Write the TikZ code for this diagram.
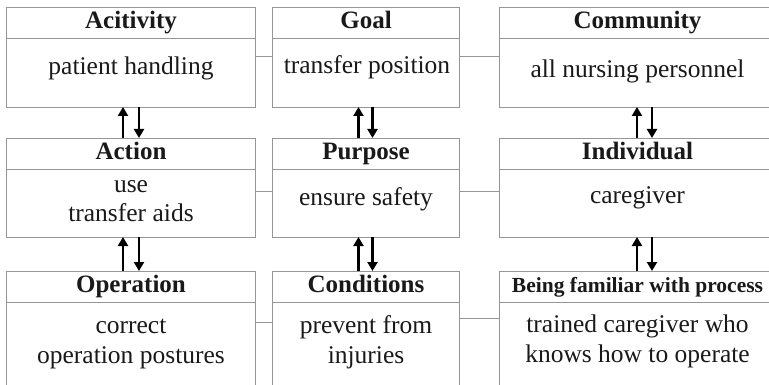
\documentclass[tikz,border=0pt]{standalone}
\usepackage{fontspec}
\setmainfont{Liberation Serif}
\usetikzlibrary{arrows.meta}
\definecolor{boxline}{RGB}{150,150,150}
\definecolor{ink}{RGB}{25,25,25}
\tikzset{
  cell/.style={draw=boxline, line width=0.9pt, rectangle, inner sep=0pt, outer sep=0pt, anchor=north west},
  headtxt/.style={font=\fontsize{25}{29}\selectfont\bfseries, text=ink, inner sep=0pt, anchor=base},
  smallhead/.style={font=\fontsize{21.5}{26}\selectfont\bfseries, text=ink, inner sep=0pt, anchor=base},
  bodytxt/.style={font=\fontsize{25.5}{29}\selectfont, text=ink, inner sep=0pt, anchor=base},
  link/.style={draw=boxline, line width=0.8pt},
  flow/.style={draw=black, line width=2.6pt, -{Triangle[length=9pt,width=10pt]}},
}
\begin{document}
\begin{tikzpicture}[x=1pt,y=-1pt]
\useasboundingbox (0,0) rectangle (769,385);
\clip (0,0) rectangle (769,385);

% ---- boxes: title cell + body cell per column and row ----
% row 1
\node[cell, minimum width=249pt, minimum height=31pt] (actT) at (6,7) {};
\node[cell, minimum width=249pt, minimum height=69pt] (actB) at (6,38) {};
\node[cell, minimum width=187pt, minimum height=31pt] (goalT) at (272,7) {};
\node[cell, minimum width=187pt, minimum height=69pt] (goalB) at (272,38) {};
\node[cell, minimum width=277pt, minimum height=31pt] (comT) at (499,7) {};
\node[cell, minimum width=277pt, minimum height=69pt] (comB) at (499,38) {};
% row 2
\node[cell, minimum width=249pt, minimum height=31pt] (actionT) at (6,138) {};
\node[cell, minimum width=249pt, minimum height=68pt] (actionB) at (6,169) {};
\node[cell, minimum width=187pt, minimum height=31pt] (purpT) at (272,138) {};
\node[cell, minimum width=187pt, minimum height=68pt] (purpB) at (272,169) {};
\node[cell, minimum width=277pt, minimum height=31pt] (indT) at (499,138) {};
\node[cell, minimum width=277pt, minimum height=68pt] (indB) at (499,169) {};
% row 3
\node[cell, minimum width=249pt, minimum height=31pt] (opT) at (6,271) {};
\node[cell, minimum width=249pt, minimum height=100pt] (opB) at (6,302) {};
\node[cell, minimum width=187pt, minimum height=31pt] (condT) at (272,271) {};
\node[cell, minimum width=187pt, minimum height=100pt] (condB) at (272,302) {};
\node[cell, minimum width=277pt, minimum height=31pt] (famT) at (499,271) {};
\node[cell, minimum width=277pt, minimum height=100pt] (famB) at (499,302) {};

% ---- texts ----
\node[headtxt] (tAct) at (131,29) {Acitivity};
\node[bodytxt] (bAct) at (131,75) {patient handling};
\node[headtxt] (tGoal) at (366,29) {Goal};
\node[bodytxt] (bGoal) at (367,74) {transfer position};
\node[headtxt] (tCom) at (637.5,29) {Community};
\node[bodytxt] (bCom) at (637.5,78) {all nursing personnel};

\node[headtxt] (tAction) at (131,160) {Action};
\node[bodytxt] (bAction1) at (131,193) {use};
\node[bodytxt] (bAction2) at (131,222) {transfer aids};
\node[headtxt] (tPurp) at (366,160) {Purpose};
\node[bodytxt] (bPurp) at (366,205) {ensure safety};
\node[headtxt] (tInd) at (637.5,160) {Individual};
\node[bodytxt] (bInd) at (637.5,204) {caregiver};

\node[headtxt] (tOp) at (131,292) {Operation};
\node[bodytxt] (bOp1) at (131,333) {correct};
\node[bodytxt] (bOp2) at (131,363) {operation postures};
\node[headtxt] (tCond) at (366,292) {Conditions};
\node[bodytxt] (bCond1) at (366,333) {prevent from};
\node[bodytxt] (bCond2) at (366,363) {injuries};
\node[smallhead] (tFam) at (637.5,292) {Being familiar with process};
\node[bodytxt] (bFam1) at (637.5,332) {trained caregiver who};
\node[bodytxt] (bFam2) at (637.5,362) {knows how to operate};

% ---- horizontal links between neighbouring boxes ----
\coordinate (r1) at (0,56);
\coordinate (r2) at (0,191);
\coordinate (r3a) at (0,322);
\coordinate (r3b) at (0,318);
\draw[link] (actB.east |- r1) -- (goalB.west |- r1);
\draw[link] (goalB.east |- r1) -- (comB.west |- r1);
\draw[link] (actionB.east |- r2) -- (purpB.west |- r2);
\draw[link] (purpB.east |- r2) -- (indB.west |- r2);
\draw[link] (opB.east |- r3a) -- (condB.west |- r3a);
\draw[link] (condB.east |- r3b) -- (famB.west |- r3b);

% ---- paired vertical arrows between rows ----
\coordinate (c1u) at (123,0);  \coordinate (c1d) at (139,0);
\coordinate (c2u) at (358.5,0); \coordinate (c2d) at (372.5,0);
\coordinate (c3u) at (637,0);  \coordinate (c3d) at (652,0);

\draw[flow] (actionT.north -| c1u) -- (actB.south -| c1u);
\draw[flow] (actB.south -| c1d) -- (actionT.north -| c1d);
\draw[flow] (purpT.north -| c2u) -- (goalB.south -| c2u);
\draw[flow] (goalB.south -| c2d) -- (purpT.north -| c2d);
\draw[flow] (indT.north -| c3u) -- (comB.south -| c3u);
\draw[flow] (comB.south -| c3d) -- (indT.north -| c3d);

\draw[flow] (opT.north -| c1u) -- (actionB.south -| c1u);
\draw[flow] (actionB.south -| c1d) -- (opT.north -| c1d);
\draw[flow] (condT.north -| c2u) -- (purpB.south -| c2u);
\draw[flow] (purpB.south -| c2d) -- (condT.north -| c2d);
\draw[flow] (famT.north -| c3u) -- (indB.south -| c3u);
\draw[flow] (indB.south -| c3d) -- (famT.north -| c3d);
\end{tikzpicture}
\end{document}
